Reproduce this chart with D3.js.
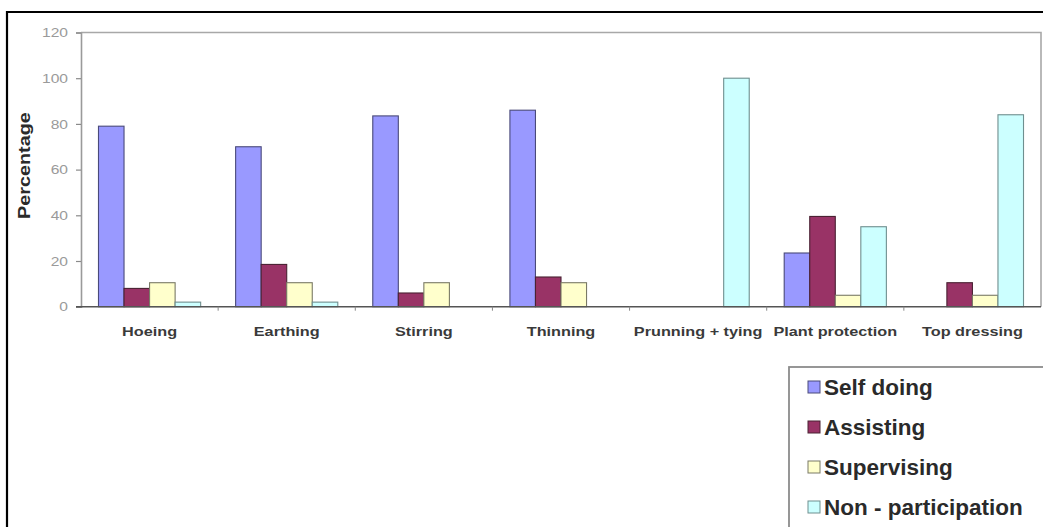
<!DOCTYPE html>
<html>
<head>
<meta charset="utf-8">
<script src="https://cdn.jsdelivr.net/npm/d3@7/dist/d3.min.js"></script>
<style>
  html, body { margin: 0; padding: 0; background: #fff; }
  svg { display: block; }
  text { font-family: "Liberation Sans", Arial, sans-serif; }
</style>
</head>
<body>
<svg id="chart" width="1043" height="527"></svg>
<script>
// Farm operations and type of participation (percent)
const categories = ["Hoeing", "Earthing", "Stirring", "Thinning", "Prunning + tying", "Plant protection", "Top dressing"];
const seriesNames = ["Self doing", "Assisting", "Supervising", "Non - participation"];
const selfDoing        = [79, 70, 83.5, 86, 0, 23.5, 0];
const assisting        = [8, 18.5, 6, 13, 0, 39.5, 10.5];
const supervising      = [10.5, 10.5, 10.5, 10.5, 0, 5, 5];
const nonParticipation = [2, 2, 0, 0, 100, 35, 84];
const yTicks = [0, 20, 40, 60, 80, 100, 120];

const seriesValues = [selfDoing, assisting, supervising, nonParticipation];
const fills   = ["#9999FF", "#993366", "#FFFFCC", "#CCFFFF"];
const strokes = ["#4a4a7a", "#4a2233", "#7a7a66", "#6f8f8f"];

const svg = d3.select("#chart");
const W = 1043, H = 527;
const plot = { left: 81, right: 1041, top: 32.5, bottom: 306.7 };

// outer frame (black, top and left visible)
svg.append("path")
  .attr("d", `M7,${H + 5} L7,12 L${W + 5},12`)
  .attr("fill", "none").attr("stroke", "#000").attr("stroke-width", 2.2);

const x0 = d3.scaleBand()
  .domain(categories)
  .range([plot.left, plot.right])
  .paddingInner(0.255)
  .paddingOuter(0.1275);

const x1 = d3.scaleBand()
  .domain(d3.range(seriesNames.length))
  .range([0, x0.bandwidth()]);

const y = d3.scaleLinear().domain([0, 120]).range([plot.bottom, plot.top]);

// plot-area frame: top and right edges
svg.append("path")
  .attr("d", `M${plot.left},${plot.top} L${plot.right},${plot.top} L${plot.right},${plot.bottom}`)
  .attr("fill", "none").attr("stroke", "#a8a8a8").attr("stroke-width", 1.6);

// bars
const rows = categories.map((c, i) => ({ cat: c, vals: seriesValues.map(s => s[i]) }));
const groups = svg.append("g").selectAll("g")
  .data(rows).join("g")
  .attr("transform", d => `translate(${x0(d.cat)},0)`);

groups.selectAll("rect")
  .data(d => d.vals.map((v, k) => ({ v, k })).filter(e => e.v > 0))
  .join("rect")
  .attr("x", e => x1(e.k))
  .attr("y", e => y(e.v))
  .attr("width", x1.bandwidth())
  .attr("height", e => y(0) - y(e.v))
  .attr("fill", e => fills[e.k])
  .attr("stroke", e => strokes[e.k])
  .attr("stroke-width", 1.1);

// y axis
const yAxis = d3.axisLeft(y).tickValues(yTicks).tickSize(5).tickPadding(7);
const gy = svg.append("g").attr("transform", `translate(${plot.left},0)`).call(yAxis);
gy.select(".domain").attr("stroke", "#9a9a9a").attr("stroke-width", 1.6);
gy.selectAll(".tick line").attr("stroke", "#8a8a8a").attr("stroke-width", 1.2);
gy.selectAll(".tick text")
  .attr("fill", "#9a9a9a")
  .style("font-size", "13px")
  .attr("x", 0)
  .attr("transform", "translate(-13,0) scale(1.2,1)");

// x axis (ticks at category boundaries)
const xAxisG = svg.append("g").attr("transform", `translate(0,${plot.bottom})`);
xAxisG.append("line")
  .attr("x1", plot.left - 5).attr("x2", plot.right)
  .attr("stroke", "#555").attr("stroke-width", 1.4);
const step = x0.step();
xAxisG.selectAll("line.tk")
  .data(d3.range(1, categories.length))
  .join("line").attr("class", "tk")
  .attr("x1", i => plot.left + i * step).attr("x2", i => plot.left + i * step)
  .attr("y1", 0).attr("y2", 4)
  .attr("stroke", "#888").attr("stroke-width", 1);
xAxisG.selectAll("text.cat")
  .data(categories)
  .join("text").attr("class", "cat")
  .attr("transform", d => `translate(${x0(d) + x0.bandwidth() / 2},29) scale(1.25,1)`)
  .attr("text-anchor", "middle")
  .attr("fill", "#3a3a3a")
  .style("font-size", "13px")
  .style("font-weight", "bold")
  .text(d => d);

// y axis title
svg.append("text")
  .attr("transform", `translate(30,${(plot.top + plot.bottom) / 2 - 4}) rotate(-90) scale(1.2,1)`)
  .attr("text-anchor", "middle")
  .attr("fill", "#2a2a2a")
  .style("font-size", "16.5px")
  .style("font-weight", "bold")
  .text("Percentage");

// legend
const lg = svg.append("g").attr("transform", "translate(789,367)");
lg.append("rect")
  .attr("x", 0).attr("y", 0).attr("width", 320).attr("height", 220)
  .attr("fill", "#fff").attr("stroke", "#8c8c8c").attr("stroke-width", 1.8);
const items = lg.selectAll("g.item")
  .data(seriesNames)
  .join("g").attr("class", "item")
  .attr("transform", (d, i) => `translate(0,${28 + i * 40})`);
items.append("rect")
  .attr("x", 19).attr("y", -14).attr("width", 12).attr("height", 12)
  .attr("fill", (d, i) => fills[i])
  .attr("stroke", (d, i) => strokes[i]).attr("stroke-width", 1);
items.append("text")
  .attr("x", 35).attr("y", 0)
  .attr("fill", "#2a2a2a")
  .style("font-size", "22.5px")
  .style("font-weight", "bold")
  .text(d => d);
</script>
</body>
</html>
